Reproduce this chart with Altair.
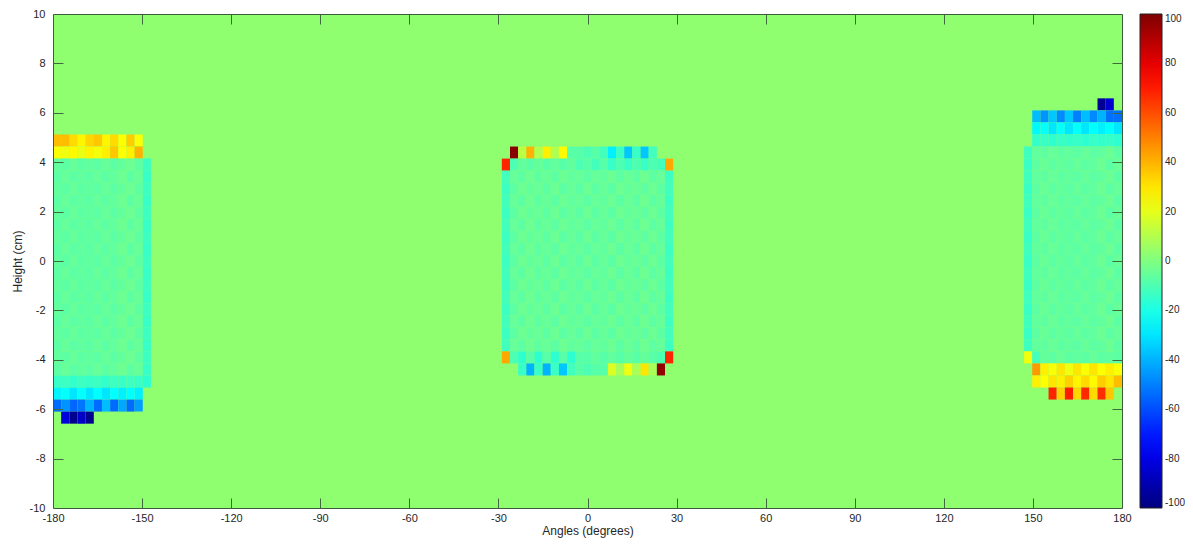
import altair as alt
import pandas as pd

# ---------------- grid definition (cells centred on 0) ----------------
N_COLS = 131          # cells across the angle range
N_ROWS = 41           # cells across the height range
X_RANGE = [-180, 180]
Y_RANGE = [-10, 10]
BACKGROUND = 3        # value of every cell outside the three blocks

X_TICKS = [-180, -150, -120, -90, -60, -30, 0, 30, 60, 90, 120, 150, 180]
Y_TICKS = [-10, -8, -6, -4, -2, 0, 2, 4, 6, 8, 10]
CBAR_TICKS = [100, 80, 60, 40, 20, 0, -20, -40, -60, -80, -100]

JET_STOPS = [-100, -75, -25, 25, 75, 100]
JET_COLORS = ["#00007f", "#0000ff", "#00ffff", "#ffff00", "#ff0000", "#7f0000"]

# ---------------- block values: (row index, first column index, values) ----------------
LEFT_A = [-6, -7, -5, -7, -6, -7, -5, -7, -6, -4, -7, -13]
LEFT_B = [-7, -5, -7, -6, -7, -5, -7, -6, -4, -7, -5, -14]
LEFT_BLOCK = [
    (10, -65, [38, 38, 32, 27, 33, 36, 27, 32, 25, 35, 24]),
    (9, -65, [24, 22, 26, 21, 27, 23, 28, 36, 25, 28, 40]),
    (8, -65, LEFT_A), (7, -65, LEFT_B), (6, -65, LEFT_A), (5, -65, LEFT_B),
    (4, -65, LEFT_A), (3, -65, LEFT_B), (2, -65, LEFT_A), (1, -65, LEFT_B),
    (0, -65, LEFT_A), (-1, -65, LEFT_B), (-2, -65, LEFT_A), (-3, -65, LEFT_B),
    (-4, -65, LEFT_A), (-5, -65, LEFT_B), (-6, -65, LEFT_A), (-7, -65, LEFT_B),
    (-8, -65, LEFT_A), (-9, -65, LEFT_B),
    (-10, -65, [-14, -13, -15, -13, -14, -13, -15, -13, -14, -13, -14, -16]),
    (-11, -65, [-27, -24, -30, -24, -30, -25, -30, -25, -28, -25, -28]),
    (-12, -65, [-54, -46, -55, -52, -40, -54, -38, -54, -42, -54, -44]),
    (-13, -64, [-82, -97, -86, -96]),
]

MID_A = [-12, -5, -7, -4, -7, -5, -7, -4, -6, -5, -7, -5, -6, -4, -7, -5, -7, -4, -7, -5, -13]
MID_B = [-13, -7, -4, -6, -5, -7, -4, -7, -5, -7, -4, -7, -5, -7, -4, -6, -5, -7, -4, -7, -12]
MIDDLE_BLOCK = [
    (9, -9, [98, 12, 40, 10, 28, 10, 26, -8, -8, -10, -8, -12, -28, -14, -36, -14, -36, -12]),
    (8, -10, [68, -10, -6, -8, -6, -8, -6, -8, -6, -10, -8, -12, -8, -14, -10, -14, -10, -14, -10, -12, 42]),
    (7, -10, MID_A), (6, -10, MID_B), (5, -10, MID_A), (4, -10, MID_B), (3, -10, MID_A),
    (2, -10, MID_B), (1, -10, MID_A), (0, -10, MID_B), (-1, -10, MID_A), (-2, -10, MID_B),
    (-3, -10, MID_A), (-4, -10, MID_B), (-5, -10, MID_A), (-6, -10, MID_B), (-7, -10, MID_A),
    (-8, -10, [42, -10, -16, -8, -16, -8, -16, -8, -16, -8, -8, -6, -8, -6, -8, -6, -8, -6, -8, -10, 68]),
    (-9, -8, [-14, -40, -14, -40, -14, -36, -12, -8, -10, -8, -8, 18, 8, 22, 8, 30, 8, 96]),
]

RIGHT_A = [-13, -6, -7, -5, -7, -6, -7, -5, -7, -6, -4, -7]
RIGHT_B = [-14, -7, -5, -7, -6, -7, -5, -7, -6, -4, -7, -5]
RIGHT_BLOCK = [
    (13, 63, [-96, -84]),
    (12, 55, [-38, -46, -36, -48, -36, -50, -38, -48, -40, -53, -53]),
    (11, 55, [-26, -24, -30, -24, -30, -24, -30, -25, -28, -25, -30]),
    (10, 55, [-15, -14, -16, -14, -15, -14, -16, -14, -15, -14, -16]),
    (9, 54, RIGHT_A), (8, 54, RIGHT_B), (7, 54, RIGHT_A), (6, 54, RIGHT_B),
    (5, 54, RIGHT_A), (4, 54, RIGHT_B), (3, 54, RIGHT_A), (2, 54, RIGHT_B),
    (1, 54, RIGHT_A), (0, 54, RIGHT_B), (-1, 54, RIGHT_A), (-2, 54, RIGHT_B),
    (-3, 54, RIGHT_A), (-4, 54, RIGHT_B), (-5, 54, RIGHT_A), (-6, 54, RIGHT_B),
    (-7, 54, RIGHT_A),
    (-8, 54, [22, -12, -6, -7, -5, -7, -6, -7, -5, -7, -6, -7]),
    (-9, 55, [45, 28, 24, 30, 22, 30, 24, 30, 25, 28, 24]),
    (-10, 55, [28, 25, 30, 28, 34, 27, 32, 26, 35, 30, 38]),
    (-11, 57, [68, 34, 70, 33, 67, 32, 66, 36]),
]

# ---------------- build table ----------------
cw = (X_RANGE[1] - X_RANGE[0]) / N_COLS
rh = (Y_RANGE[1] - Y_RANGE[0]) / N_ROWS
records = [dict(x0=X_RANGE[0], x1=X_RANGE[1], y0=Y_RANGE[0], y1=Y_RANGE[1], v=BACKGROUND)]
for block in (LEFT_BLOCK, MIDDLE_BLOCK, RIGHT_BLOCK):
    for j, i0, vals in block:
        for k, val in enumerate(vals):
            i = i0 + k
            records.append(dict(x0=(i - 0.5) * cw, x1=(i + 0.5) * cw,
                                y0=(j - 0.5) * rh, y1=(j + 0.5) * rh, v=val))
cells = pd.DataFrame(records)
corners = pd.DataFrame({"a": X_RANGE, "h": Y_RANGE})

W, H = 1069, 494
FONT = "Liberation Sans"
TXT = "#262626"
FRAME = "#3c5a3c"
TICK = "#3f6a3f"
PLAIN = "'' + datum.value"

xs = alt.Scale(domain=X_RANGE, nice=False, zero=False)
ys = alt.Scale(domain=Y_RANGE, nice=False, zero=False)
cs = alt.Scale(domain=JET_STOPS, range=JET_COLORS, interpolate="rgb", clamp=True)

heat = alt.Chart(cells).mark_rect().encode(
    x=alt.X("x0:Q", scale=xs, axis=alt.Axis(
        orient="bottom", values=X_TICKS, title="Angles (degrees)", ticks=False, tickSize=0,
        domain=True, domainColor=FRAME, domainWidth=1, labelPadding=4, labelFont=FONT,
        labelFontSize=11, labelColor=TXT, labelExpr=PLAIN, titleFont=FONT, titleFontSize=12,
        titleFontWeight="normal", titleColor=TXT, titlePadding=2, zindex=1, grid=False,
        labelFlush=False)),
    x2="x1:Q",
    y=alt.Y("y0:Q", scale=ys, axis=alt.Axis(
        orient="left", values=Y_TICKS, title="Height (cm)", ticks=False, tickSize=0,
        domain=True, domainColor=FRAME, domainWidth=1, labelPadding=8, labelFont=FONT,
        labelFontSize=11, labelColor=TXT, labelExpr=PLAIN, titleFont=FONT, titleFontSize=12,
        titleFontWeight="normal", titleColor=TXT, titlePadding=5, zindex=1, grid=False,
        labelFlush=False)),
    y2="y1:Q",
    color=alt.Color("v:Q", scale=cs, legend=alt.Legend(
        type="gradient", title=None, orient="right", direction="vertical", values=CBAR_TICKS,
        gradientLength=H, gradientThickness=22, offset=17, padding=0,
        labelFont=FONT, labelFontSize=10, labelColor=TXT, labelOffset=3, labelExpr=PLAIN,
        labelOverlap=False, gradientStrokeColor="#222222", gradientStrokeWidth=1)),
)

# inward ticks on bottom edge and left edge
ticks_b = alt.Chart(corners).mark_point(opacity=0).encode(
    x=alt.X("a:Q", scale=xs, axis=alt.Axis(
        orient="top", offset=-H, values=X_TICKS[1:-1], labels=False, title=None,
        domain=False, ticks=True, tickSize=10, tickColor=TICK, tickWidth=1,
        zindex=1, grid=False)),
    y=alt.Y("h:Q", scale=ys, axis=alt.Axis(
        orient="right", offset=-W, values=Y_TICKS[1:-1], labels=False, title=None,
        domain=False, ticks=True, tickSize=10, tickColor=TICK, tickWidth=1,
        zindex=1, grid=False)),
)

# inward ticks and frame on top edge and right edge
ticks_t = alt.Chart(corners).mark_point(opacity=0).encode(
    x=alt.X("a:Q", scale=xs, axis=alt.Axis(
        orient="bottom", offset=-H, values=X_TICKS[1:-1], labels=False, title=None,
        domain=True, domainColor=FRAME, domainWidth=1, ticks=True, tickSize=10,
        tickColor=TICK, tickWidth=1, zindex=1, grid=False)),
    y=alt.Y("h:Q", scale=ys, axis=alt.Axis(
        orient="left", offset=-W, values=Y_TICKS[1:-1], labels=False, title=None,
        domain=True, domainColor=FRAME, domainWidth=1, ticks=True, tickSize=10,
        tickColor=TICK, tickWidth=1, zindex=1, grid=False)),
)

chart = alt.layer(heat, ticks_b, ticks_t).resolve_axis(
    x="independent", y="independent"
).properties(
    width=W, height=H,
    autosize=alt.AutoSizeParams(type="none"),
    padding={"left": 45, "top": 6, "right": 63, "bottom": 30},
    background="white",
).configure_view(stroke=None)

chart.save("out.html", embed_options={"renderer": "svg", "actions": False})
